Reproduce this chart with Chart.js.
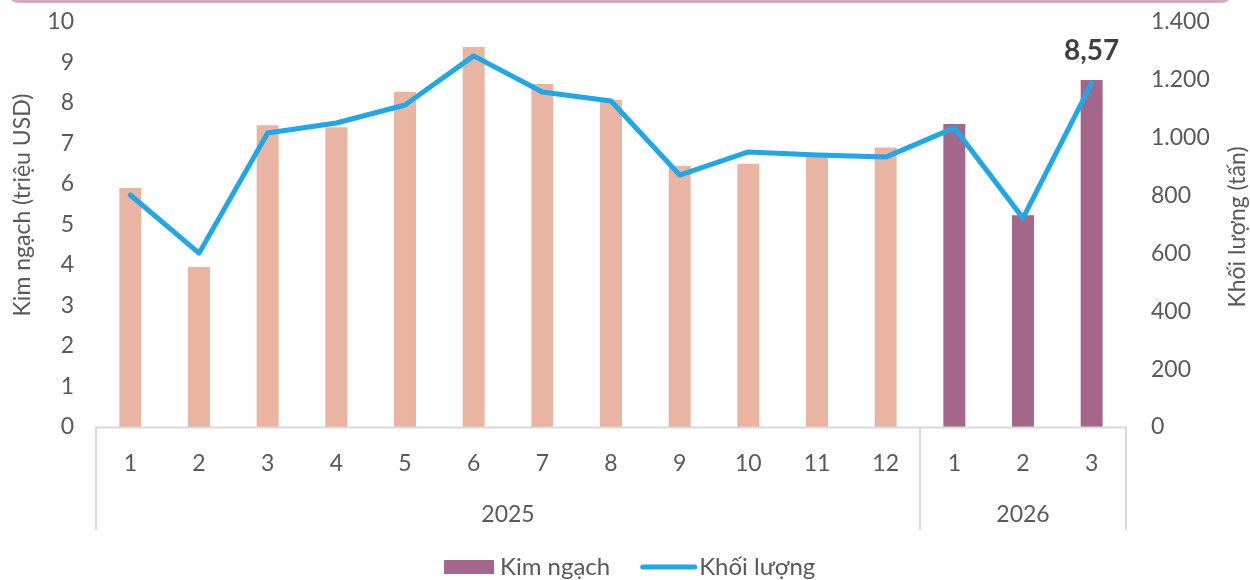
<!DOCTYPE html>
<html>
<head>
<meta charset="utf-8">
<script src="https://cdn.jsdelivr.net/npm/chart.js@4"></script>
<style>
  html, body { margin: 0; padding: 0; background: #ffffff; }
  #wrap { width: 1250px; height: 580px; position: relative; }
</style>
</head>
<body>
<div id="wrap"><canvas id="c" width="1250" height="580"></canvas></div>
<script>
// ---- Data ----
const months = ['1','2','3','4','5','6','7','8','9','10','11','12','1','2','3'];
const years  = ['2025','2025','2025','2025','2025','2025','2025','2025','2025','2025','2025','2025','2026','2026','2026'];
const kimNgach = [5.9, 3.95, 7.45, 7.4, 8.28, 9.38, 8.47, 8.08, 6.45, 6.5, 6.76, 6.9, 7.48, 5.23, 8.57];
const khoiLuong = [802, 601, 1016, 1051, 1113, 1283, 1158, 1127, 871, 951, 940, 933, 1034, 722, 1189];
const leftTicks = [0,1,2,3,4,5,6,7,8,9,10];
const rightTicks = [0,200,400,600,800,1000,1200,1400];
const seriesNames = ['Kim ngạch', 'Khối lượng'];
const axisTitles = ['Kim ngạch (triệu USD)', 'Khối lượng (tấn)'];
const labelIndex = 14;
const labelText = '8,57';

// ---- Styles ----
const FONT = 'Lato';
const TXT = '#595959';
const SALMON = '#e9b5a2';
const PURPLE = '#a5668b';
const BLUE = '#1fa7e7';
const AXIS = '#d9d9d9';

const barColors = years.map(y => y === '2026' ? PURPLE : SALMON);
const fmtDot = v => String(v).replace(/\B(?=(\d{3})+(?!\d))/g, '.');

const decor = {
  id: 'decor',
  beforeDraw(chart) {
    const ctx = chart.ctx;
    ctx.save();
    ctx.strokeStyle = '#d3a9c6';
    ctx.lineWidth = 3;
    ctx.beginPath();
    ctx.roundRect(10, -40, 1220, 41.5, 8);
    ctx.stroke();
    ctx.restore();
  },
  afterDraw(chart) {
    const ctx = chart.ctx;
    const xs = chart.scales.x;
    const ca = chart.chartArea;
    const bottom = ca.bottom;
    ctx.save();
    // axis line and group separators
    ctx.strokeStyle = AXIS;
    ctx.lineWidth = 2;
    ctx.beginPath();
    ctx.moveTo(xs.left, bottom + 0.5);
    ctx.lineTo(xs.right, bottom + 0.5);
    const groups = [];
    let start = 0;
    for (let i = 1; i <= years.length; i++) {
      if (i === years.length || years[i] !== years[start]) {
        groups.push({ name: years[start], s: start, e: i - 1 });
        start = i;
      }
    }
    const step = xs.getPixelForValue(1) - xs.getPixelForValue(0);
    const edges = [xs.left];
    groups.forEach(g => edges.push(xs.getPixelForValue(g.e) + step / 2));
    edges.forEach(x => {
      ctx.moveTo(x, bottom);
      ctx.lineTo(x, bottom + 103);
    });
    ctx.stroke();
    // group labels
    ctx.fillStyle = TXT;
    ctx.font = '23px ' + FONT;
    ctx.textAlign = 'center';
    ctx.textBaseline = 'middle';
    groups.forEach((g, k) => {
      const cx = (edges[k] + edges[k + 1]) / 2;
      ctx.fillText(g.name, cx, bottom + 88);
    });
    // axis titles (both read bottom-to-top)
    ctx.textBaseline = 'alphabetic';
    ctx.save();
    ctx.translate(30, 205);
    ctx.rotate(-Math.PI / 2);
    ctx.fillText(axisTitles[0], 0, 0);
    ctx.restore();
    ctx.save();
    ctx.translate(1245, 227);
    ctx.rotate(-Math.PI / 2);
    ctx.fillText(axisTitles[1], 0, 0);
    ctx.restore();
    // data label
    const meta = chart.getDatasetMeta(0);
    const el = meta.data[labelIndex];
    ctx.fillStyle = '#404040';
    ctx.font = 'bold 28px ' + FONT;
    ctx.fillText(labelText, el.x, el.y - 20);
    // legend
    ctx.font = '24px ' + FONT;
    ctx.textAlign = 'left';
    const w1 = ctx.measureText(seriesNames[0]).width;
    let x = 444;
    const ly = 567;
    ctx.fillStyle = PURPLE;
    ctx.fillRect(x, ly - 7, 50, 14);
    x += 56;
    ctx.fillStyle = TXT;
    ctx.fillText(seriesNames[0], x, ly + 8);
    x += w1 + 30;
    ctx.strokeStyle = BLUE;
    ctx.lineWidth = 5;
    ctx.lineCap = 'round';
    ctx.beginPath();
    ctx.moveTo(x + 2.5, ly);
    ctx.lineTo(x + 54.5, ly);
    ctx.stroke();
    x += 59;
    ctx.fillText(seriesNames[1], x, ly + 8);
    ctx.restore();
  }
};

function noPadV(s) { s.paddingTop = 0; s.paddingBottom = 0; }

new Chart(document.getElementById('c'), {
  type: 'bar',
  data: {
    labels: months,
    datasets: [
      {
        type: 'bar',
        label: seriesNames[0],
        data: kimNgach,
        backgroundColor: barColors,
        borderWidth: 0,
        barPercentage: 0.64,
        categoryPercentage: 0.5,
        yAxisID: 'y',
        order: 2
      },
      {
        type: 'line',
        label: seriesNames[1],
        data: khoiLuong,
        borderColor: BLUE,
        backgroundColor: BLUE,
        borderWidth: 5,
        borderCapStyle: 'round',
        borderJoinStyle: 'round',
        pointRadius: 0,
        pointHoverRadius: 0,
        tension: 0,
        yAxisID: 'y1',
        order: 1
      }
    ]
  },
  options: {
    responsive: false,
    animation: false,
    events: [],
    layout: { padding: { top: 22, left: 0, right: 0, bottom: 0 } },
    plugins: {
      tooltip: { enabled: false },
      legend: { display: false }
    },
    scales: {
      x: {
        grid: { display: false },
        border: { display: false },
        ticks: { font: { family: FONT, size: 23 }, color: TXT, padding: 15, maxRotation: 0, autoSkip: false },
        afterFit(s) { s.height = 153; s.paddingLeft = 0; s.paddingRight = 0; }
      },
      y: {
        position: 'left',
        min: 0, max: 10,
        afterBuildTicks(s) { s.ticks = leftTicks.map(v => ({ value: v })); },
        grid: { display: false },
        border: { display: false },
        ticks: { font: { family: FONT, size: 23 }, color: TXT, padding: 14 },
        afterFit(s) { s.width = 96; noPadV(s); }
      },
      y1: {
        position: 'right',
        min: 0, max: 1400,
        afterBuildTicks(s) { s.ticks = rightTicks.map(v => ({ value: v })); },
        grid: { display: false },
        border: { display: false },
        ticks: { font: { family: FONT, size: 23 }, color: TXT, padding: 17, callback: v => fmtDot(v) },
        afterFit(s) { s.width = 124; noPadV(s); }
      }
    }
  },
  plugins: [decor]
});
</script>
</body>
</html>
